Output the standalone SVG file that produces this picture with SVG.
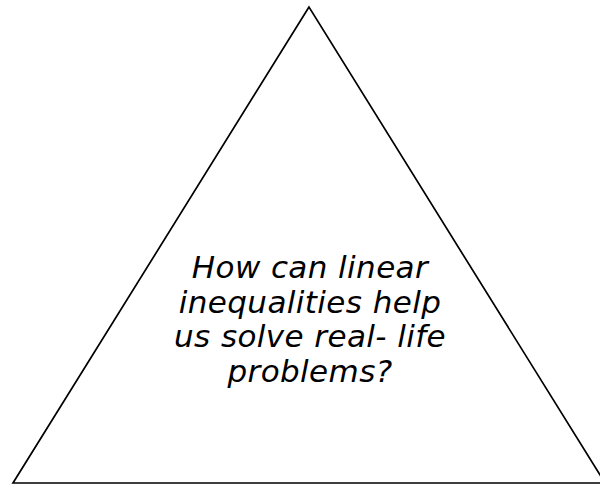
<svg xmlns="http://www.w3.org/2000/svg" width="600" height="485" viewBox="0 0 600 485">
<style>
.t{font-family:"DejaVu Sans",Verdana,sans-serif;font-style:italic;font-size:31px;letter-spacing:0.4px;fill:#000;text-anchor:middle}
</style>
<rect width="600" height="485" fill="#fff"/>
<g id="triangle">
<polygon points="309,7 13,483 605,483" fill="none" stroke="#000" stroke-width="1.7"/>
<text class="t" x="310" y="278">How can linear</text>
<text class="t" x="310" y="312.5">inequalities help</text>
<text class="t" x="310" y="347">us solve real- life</text>
<text class="t" x="310" y="381.5">problems?</text>
</g>
</svg>
